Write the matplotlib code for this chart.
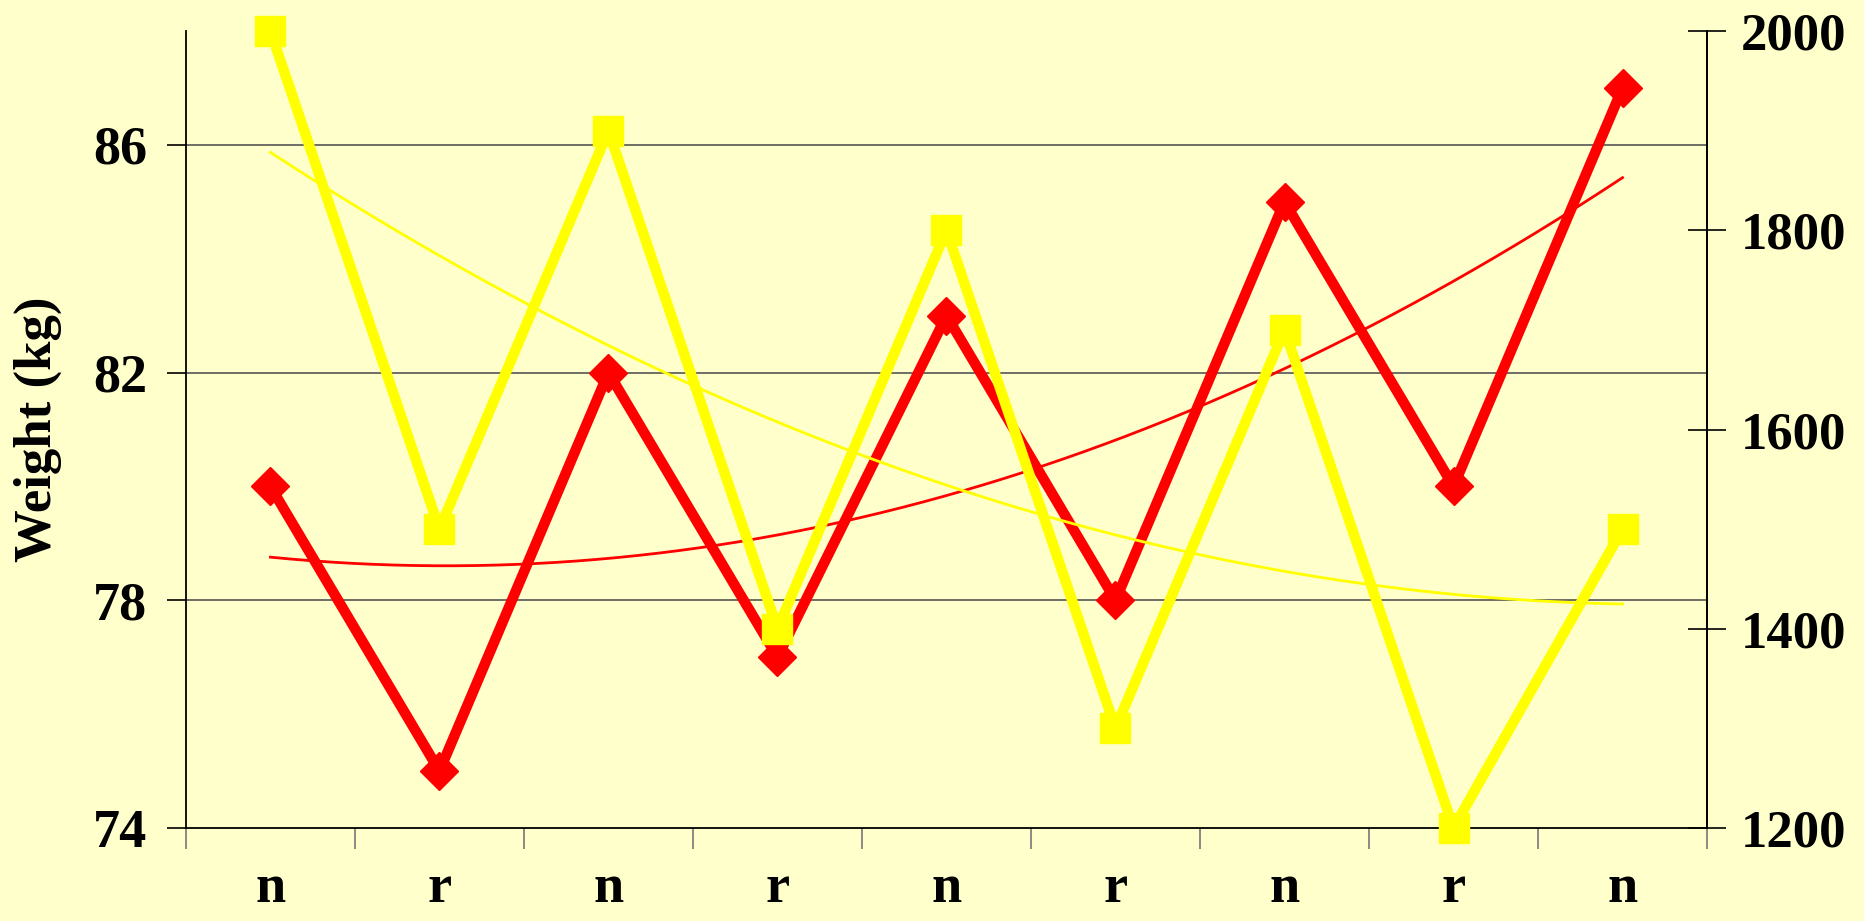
import numpy as np
import matplotlib
matplotlib.use('Agg')
import matplotlib.pyplot as plt

plt.rcParams['font.family'] = ['Liberation Serif', 'DejaVu Serif']
plt.rcParams['font.weight'] = 'bold'

labels = ['n', 'r', 'n', 'r', 'n', 'r', 'n', 'r', 'n']
weight = [80, 75, 82, 77, 83, 78, 85, 80, 87]
other = [2000, 1500, 1900, 1400, 1800, 1300, 1700, 1200, 1500]

bg = '#FFFFCC'
x = np.arange(1, len(labels) + 1)
xs = np.linspace(1, len(labels), 200)

fig = plt.figure(figsize=(18.65, 9.21), dpi=100, facecolor=bg)
ax = fig.add_axes([0.0997, 0.101, 0.8156, 0.8653])
ax.set_facecolor(bg)
ax2 = ax.twinx()

# weight on the left axis, with a 2nd order trend
ax.plot(x, weight, color='red', lw=7.5, marker='D', ms=19, zorder=3, clip_on=False)
ax.plot(xs, np.polyval(np.polyfit(x, weight, 2), xs), color='red', lw=2, zorder=3)

# second series on the right axis
ax2.plot(x, other, color='yellow', lw=7.5, marker='s', ms=21, zorder=3, clip_on=False)
ax2.plot(xs, np.polyval(np.polyfit(x, other, 2), xs), color='yellow', lw=2, zorder=3)

ax.set_xlim(0.5, len(labels) + 0.5)
ax.set_ylim(74, 88)
ax2.set_ylim(1200, 2000)

ax.set_yticks([74, 78, 82, 86])
ax2.set_yticks([1200, 1400, 1600, 1800, 2000])
for v in [78, 82, 86]:
    ax.axhline(v, color='#555555', lw=1.2, zorder=1)

ax.set_xticks(x)
ax.set_xticklabels(labels)
ax.set_xticks(np.arange(0.5, len(labels) + 1), minor=True)
ax.tick_params(axis='x', which='major', length=0, pad=26, labelsize=39)
ax.tick_params(axis='x', which='minor', length=15, width=1.2, color='#777777', direction='out')
ax.tick_params(axis='y', length=14, width=1.2, labelsize=39, pad=14)
ax2.tick_params(axis='y', length=28, width=1.2, direction='inout', labelsize=38, pad=10)

for a in (ax, ax2):
    a.spines['top'].set_visible(False)
    for s in ('left', 'right', 'bottom'):
        a.spines[s].set_linewidth(1.3)
ax2.spines['left'].set_visible(False)
ax2.spines['bottom'].set_visible(False)

ax.set_ylabel('Weight (kg)', fontsize=38, fontweight='bold', labelpad=22)

fig.savefig('out.png', dpi=100, facecolor=bg)
